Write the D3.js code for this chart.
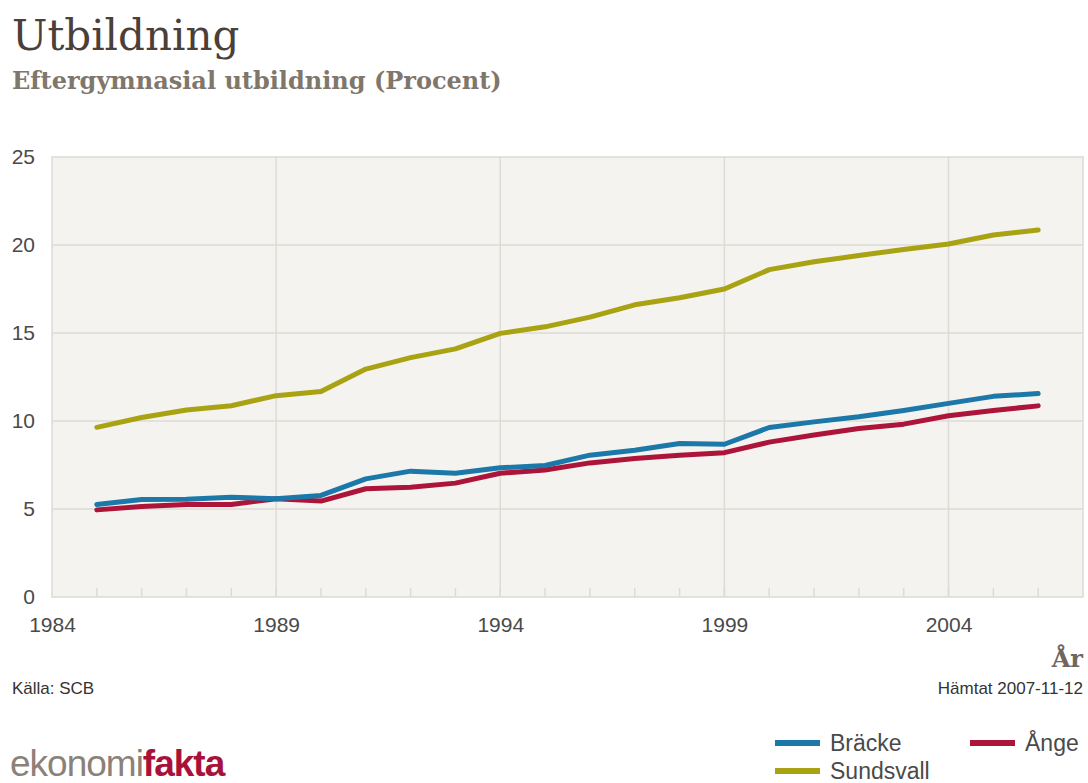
<!DOCTYPE html>
<html>
<head>
<meta charset="utf-8">
<script src="https://cdn.jsdelivr.net/npm/d3@7"></script>
<style>
  body { margin: 0; background: #fff; }
  text { font-family: "Liberation Sans", Arial, sans-serif; }
  .serif { font-family: Georgia, "DejaVu Serif", "Liberation Serif", serif; }
</style>
</head>
<body>
<svg id="chart" width="1088" height="783"></svg>
<script>
var years = d3.range(1985, 2007);
var bracke = [5.26, 5.54, 5.55, 5.67, 5.58, 5.77, 6.71, 7.15, 7.03, 7.34, 7.47,
              8.06, 8.34, 8.72, 8.68, 9.63, 9.95, 10.24, 10.6, 11.0, 11.4, 11.56];
var ange = [4.95, 5.14, 5.26, 5.26, 5.58, 5.45, 6.15, 6.24, 6.47, 7.03, 7.22,
            7.62, 7.87, 8.06, 8.2, 8.8, 9.2, 9.57, 9.82, 10.3, 10.6, 10.86];
var sundsvall = [9.64, 10.2, 10.63, 10.87, 11.44, 11.67, 12.95, 13.6, 14.1, 14.98, 15.35,
                 15.9, 16.6, 17.0, 17.5, 18.6, 19.05, 19.4, 19.75, 20.06, 20.57, 20.85];
var yTicks = [0, 5, 10, 15, 20, 25];
var xTicks = [1984, 1989, 1994, 1999, 2004];

var series = [
  { name: "Bräcke", values: bracke, color: "#1b78a8" },
  { name: "Ånge", values: ange, color: "#ad1439" },
  { name: "Sundsvall", values: sundsvall, color: "#a9a313" }
];

var svg = d3.select("#chart");
var plotL = 52, plotR = 1083, plotT = 157, plotB = 597;

var x = d3.scaleLinear().domain([1984, 2007]).range([plotL, plotR]);
var y = d3.scaleLinear().domain([0, 25]).range([plotB, plotT]);

// title
svg.append("text").attr("class", "serif")
  .attr("x", 12).attr("y", 50)
  .attr("font-size", 42).attr("fill", "#4b3f39")
  .text("Utbildning");
svg.append("text").attr("class", "serif")
  .attr("x", 12).attr("y", 89)
  .attr("font-size", 24).attr("font-weight", "bold").attr("fill", "#7f766c")
  .text("Eftergymnasial utbildning (Procent)");

// plot background
svg.append("rect")
  .attr("x", plotL).attr("y", plotT)
  .attr("width", plotR - plotL).attr("height", plotB - plotT)
  .attr("fill", "#f4f3ef").attr("stroke", "#dcdad5").attr("stroke-width", 1.5);

// grid
svg.append("g").selectAll("line")
  .data(yTicks.slice(1, -1))
  .enter().append("line")
  .attr("x1", plotL).attr("x2", plotR)
  .attr("y1", d => y(d)).attr("y2", d => y(d))
  .attr("stroke", "#dddbd6").attr("stroke-width", 1.5);

svg.append("g").selectAll("line")
  .data(xTicks.slice(1))
  .enter().append("line")
  .attr("x1", d => x(d)).attr("x2", d => x(d))
  .attr("y1", plotT).attr("y2", plotB)
  .attr("stroke", "#dddbd6").attr("stroke-width", 1.5);

// minor year ticks
svg.append("g").selectAll("line")
  .data(years)
  .enter().append("line")
  .attr("x1", d => x(d)).attr("x2", d => x(d))
  .attr("y1", plotB - 9).attr("y2", plotB)
  .attr("stroke", "#dddbd6").attr("stroke-width", 1.5);

// axes labels
var yAxis = d3.axisLeft(y).tickValues(yTicks).tickSize(0).tickPadding(17);
var gy = svg.append("g").attr("transform", "translate(" + plotL + ",0)").call(yAxis);
gy.select(".domain").remove();
gy.selectAll("text").attr("font-size", 21).attr("fill", "#4a4a4a")
  .attr("font-family", "Liberation Sans, Arial, sans-serif");

var xAxis = d3.axisBottom(x).tickValues(xTicks).tickFormat(d3.format("d")).tickSize(0).tickPadding(20);
var gx = svg.append("g").attr("transform", "translate(0," + plotB + ")").call(xAxis);
gx.select(".domain").remove();
gx.selectAll("text").attr("font-size", 21).attr("fill", "#4a4a4a")
  .attr("font-family", "Liberation Sans, Arial, sans-serif");

// lines
var line = d3.line()
  .x((d, i) => x(years[i]))
  .y(d => y(d));

svg.append("g").selectAll("path")
  .data(series.slice().reverse())
  .enter().append("path")
  .attr("d", d => line(d.values))
  .attr("fill", "none")
  .attr("stroke", d => d.color)
  .attr("stroke-width", 5)
  .attr("stroke-linejoin", "round")
  .attr("stroke-linecap", "round");

// axis title and notes
svg.append("text").attr("class", "serif")
  .attr("x", 1083).attr("y", 667).attr("text-anchor", "end")
  .attr("font-size", 24).attr("font-weight", "bold").attr("fill", "#6f665d")
  .text("År");
svg.append("text")
  .attr("x", 12).attr("y", 694)
  .attr("font-size", 17).attr("fill", "#333")
  .text("Källa: SCB");
svg.append("text")
  .attr("x", 1083).attr("y", 694).attr("text-anchor", "end")
  .attr("font-size", 17).attr("fill", "#333")
  .text("Hämtat 2007-11-12");

// legend
var legendPos = [
  { lx: 775, ly: 743 },
  { lx: 970, ly: 743 },
  { lx: 775, ly: 771 }
];
var lg = svg.append("g").selectAll("g")
  .data(series)
  .enter().append("g")
  .attr("transform", (d, i) => "translate(" + legendPos[i].lx + "," + legendPos[i].ly + ")");
lg.append("line")
  .attr("x1", 0).attr("x2", 45).attr("y1", 0).attr("y2", 0)
  .attr("stroke", d => d.color).attr("stroke-width", 6);
lg.append("text")
  .attr("x", 55).attr("y", 8)
  .attr("font-size", 23).attr("fill", "#4a4a4a")
  .text(d => d.name);

// logo
var logo = svg.append("text")
  .attr("x", 10).attr("y", 776)
  .attr("font-size", 37).attr("letter-spacing", -1);
logo.append("tspan").attr("fill", "#8c8178").text("ekonomi");
logo.append("tspan").attr("fill", "#a8123a").attr("font-weight", "bold").text("fakta");
</script>
</body>
</html>
